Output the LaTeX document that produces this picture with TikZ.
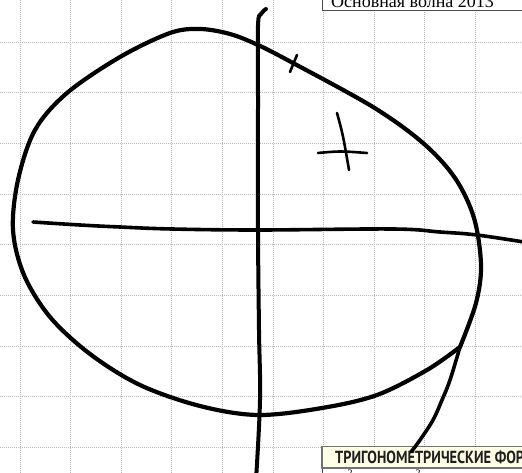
\documentclass[tikz,border=0pt]{standalone}
\usepackage{graphicx}
\usepackage{fontspec}
\setmainfont{Liberation Serif}
\newfontfamily\condfont{PT Sans}
\usetikzlibrary{positioning}

\definecolor{creamfill}{HTML}{FFFFE6}

\begin{document}
\begin{tikzpicture}[
        x=1pt, y=-1pt,
        gridline/.style={gray!55, line width=0.8pt, dash pattern=on 1pt off 1pt},
        penline/.style={line width=4.2pt, line cap=round, line join=round},
        axisline/.style={line width=3.6pt, line cap=round, line join=round},
        thinpen/.style={line width=2.6pt, line cap=round},
        labeltext/.style={inner sep=0pt, anchor=base west},
        topbox/.style={draw=black!70, fill=white, line width=1pt},
        headerbox/.style={draw=black!55, fill=creamfill, line width=1.6pt}
    ]
    \useasboundingbox (0,0) rectangle (522,473);

    % squared paper
    \foreach \gx in {0,...,9}
        \draw[gridline] ({20+50.6*\gx},0) -- ({20+50.6*\gx},473);
    \foreach \gy in {0,...,8}
        \draw[gridline] (0,{42.3+50.6*\gy}) -- (522,{42.3+50.6*\gy});

    % header of the page
    \draw[topbox] (322.7,-20) rectangle (540,11);
    \node[labeltext, font=\fontsize{18}{18}\selectfont] (wave) at (331,8) {Основная волна 2013};

    % table at the bottom
    \fill[white] (322,468) rectangle (540,480);
    \draw[black!70, line width=0.8pt] (322,468) -- (322,480);
    \draw[headerbox] (322,446.5) rectangle (540,468);
    \node[labeltext, text=black!88] (formulas) at (335,463.3)
        {\resizebox{189pt}{12.6pt}{\condfont\bfseries ТРИГОНОМЕТРИЧЕСКИЕ ФОР}};
    \node[inner sep=0pt, anchor=north, font=\fontsize{10}{10}\selectfont] (sqa) at (350,469.5) {2};
    \node[inner sep=0pt, anchor=north, font=\fontsize{10}{10}\selectfont] (sqb) at (418,469.5) {2};

    % axes
    \draw[axisline] plot[smooth, tension=0.6] coordinates {
        (33,222) (80,225) (120,227) (172,229) (258,230) (393,229)
        (440,232) (477,235) (530,243)};
    \draw[axisline, line width=4pt] plot[smooth, tension=0.6] coordinates {
        (266,9) (261,14) (258,26) (258,100) (258,230) (259,330)
        (260,400) (256,480)};

    % the hand drawn circle
    \draw[penline] plot[smooth, tension=0.55] coordinates {
        (460,347) (427,370) (377,395) (322,408) (258,415) (200,406)
        (140,385) (90,354) (50,317) (24,275) (13,230) (18,180)
        (35,130) (67,93) (120,57) (170,33) (200,29) (230,34)
        (258,45) (293,63) (373,107) (423,143) (455,178) (474,218)
        (481,265) (476,303) (460,347)};
    \draw[penline, line width=3.6pt] plot[smooth, tension=0.6] coordinates {
        (460,347) (450,380) (442,400) (433,420) (420,440) (411,452)};

    % tick and plus sign
    \draw[thinpen] (290,72) -- (297,55);
    \draw[thinpen] (337,113) .. controls (343,135) .. (349,170);
    \draw[thinpen] (318,153) .. controls (340,151) .. (367,153);
\end{tikzpicture}
\end{document}
